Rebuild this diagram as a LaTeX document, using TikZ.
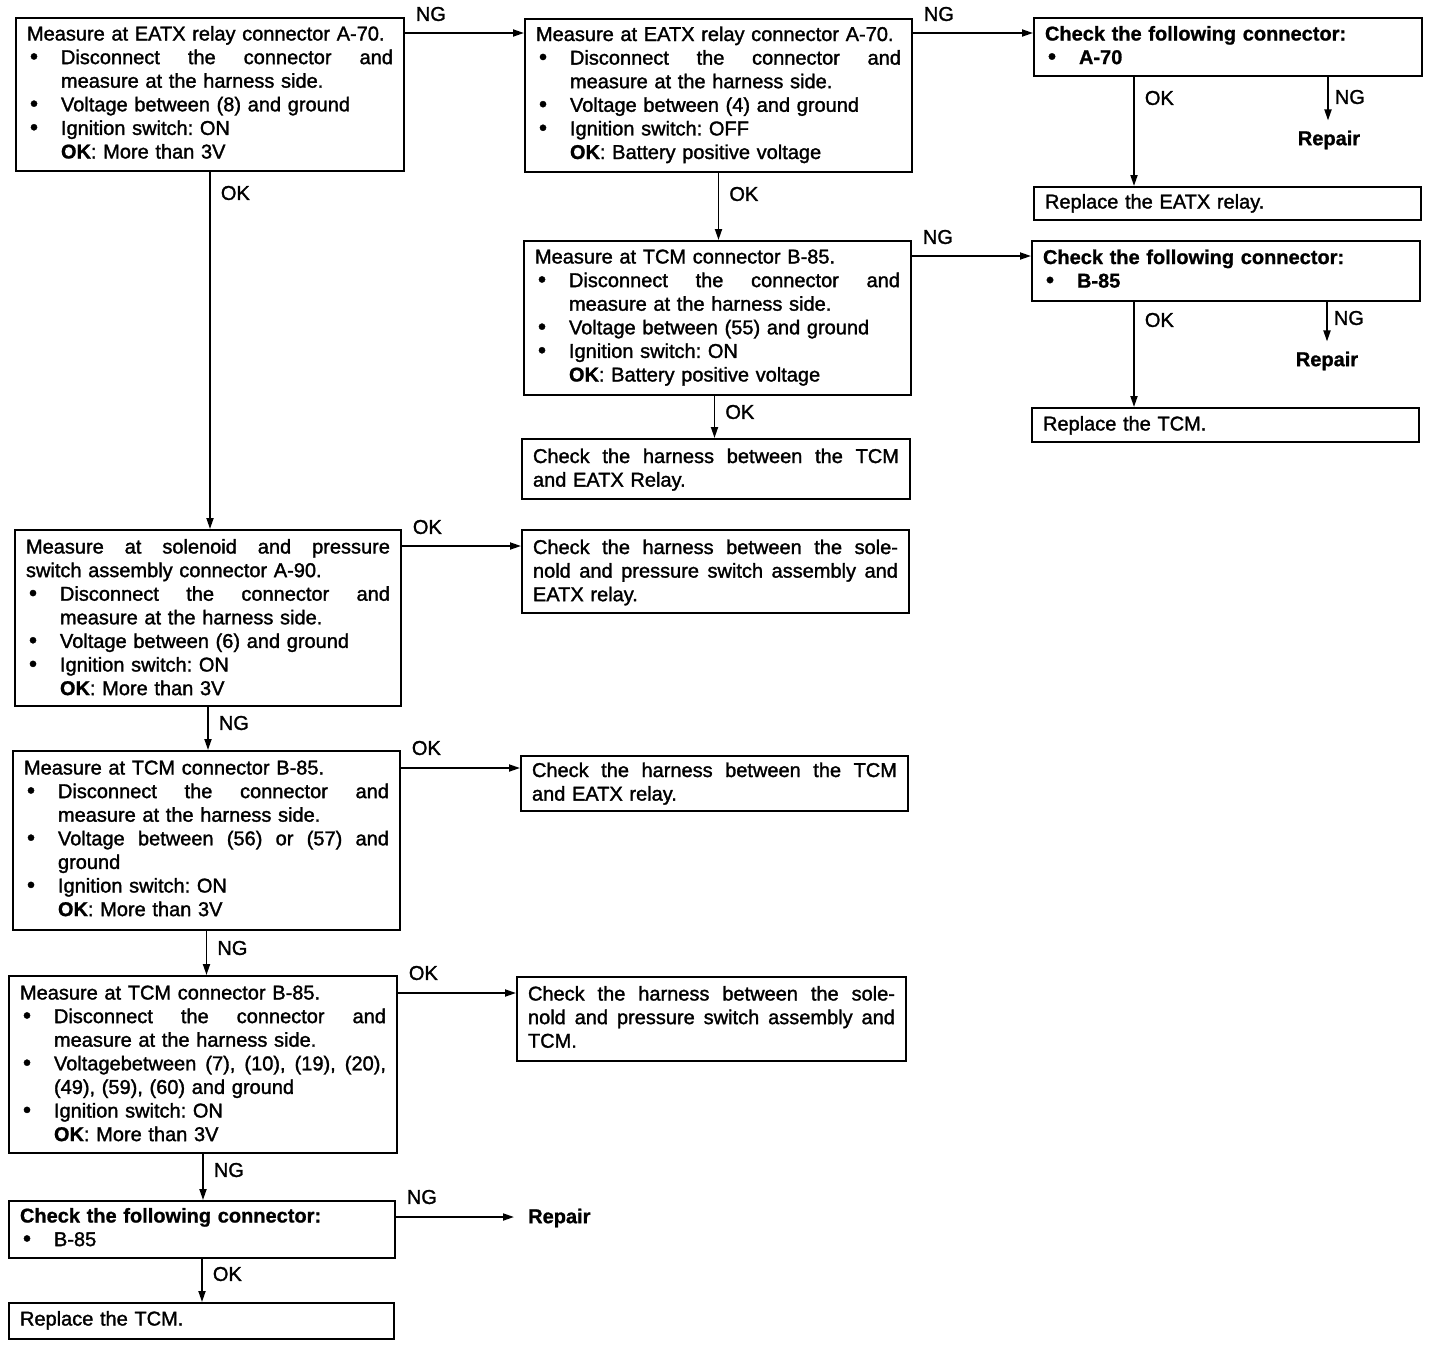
\documentclass[tikz,border=0pt]{standalone}
\usepackage{fontspec}
\setmainfont{Liberation Sans}[UprightFeatures={FakeBold=1.5},BoldFeatures={FakeBold=1}]
\usetikzlibrary{arrows.meta,calc}
\frenchspacing
\newlength\bind \setlength\bind{34pt}
\newcommand\bul{\makebox[\bind][l]{\hspace{3pt}\scalebox{1.15}{\textbullet}}}
\newcommand\bu[1]{\bul#1}
\newcommand\jbu[1]{\bul\makebox[\dimexpr\hsize-\bind\relax][s]{\spaceskip=.2em plus 1fil\relax #1}}
\newcommand\ind[1]{\hspace*{\bind}#1}
\newcommand\jl[1]{\makebox[\hsize][s]{\spaceskip=.2em plus 1fil\relax #1}}
\newcommand\okr[1]{\hspace*{\bind}\textbf{OK}: #1}
\tikzset{
  box/.style={draw, line width=2pt, rectangle, anchor=north west, inner xsep=11pt,
    inner ysep=0pt, align=left, font=\fontsize{20}{23.6}\selectfont},
  lbl/.style={font=\fontsize{20}{24}\selectfont, inner sep=2pt},
  rep/.style={font=\fontsize{20}{24}\selectfont\bfseries, inner sep=0pt},
  arr/.style={line width=1.8pt, -{Triangle[length=11pt,width=7pt]}},
}
\begin{document}
\begin{tikzpicture}[x=1pt,y=-1pt]
\useasboundingbox (0,0) rectangle (1440,1344);

% ---------- boxes ----------
\node[box, text width=366pt, text height=22.5pt, text depth=130.5pt] (A) at (15,17) {%
Measure at EATX relay connector A-70.\\
\jbu{Disconnect the connector and}\\
\ind{measure at the harness side.}\\
\bu{Voltage between (8) and ground}\\
\bu{Ignition switch: ON}\\
\okr{More than 3V}};

\node[box, text width=365pt, text height=22pt, text depth=131pt] (B) at (524,18) {%
Measure at EATX relay connector A-70.\\
\jbu{Disconnect the connector and}\\
\ind{measure at the harness side.}\\
\bu{Voltage between (4) and ground}\\
\bu{Ignition switch: OFF}\\
\okr{Battery positive voltage}};

\node[box, text width=366pt, text height=22.5pt, text depth=35.5pt] (C) at (1033,17) {%
\textbf{Check the following connector:}\\
\bfseries\bu{A-70}};

\node[box, text width=365pt, text height=21.5pt, text depth=11.5pt] (D) at (1033,186) {%
Replace the EATX relay.};

\node[box, text width=365pt, text height=22.5pt, text depth=131.5pt] (E) at (523,240) {%
Measure at TCM connector B-85.\\
\jbu{Disconnect the connector and}\\
\ind{measure at the harness side.}\\
\bu{Voltage between (55) and ground}\\
\bu{Ignition switch: ON}\\
\okr{Battery positive voltage}};

\node[box, text width=366pt, text height=23pt, text depth=37pt] (F) at (1031,240) {%
\textbf{Check the following connector:}\\
\bfseries\bu{B-85}};

\node[box, text width=365pt, text height=22.5pt, text depth=11.5pt] (G) at (1031,407) {%
Replace the TCM.};

\node[box, text width=366pt, text height=24pt, text depth=36pt] (H) at (521,438) {%
\jl{Check the harness between the TCM}\\
and EATX Relay.};

\node[box, text width=364pt, text height=23.5pt, text depth=152.5pt] (I) at (14,529) {%
\jl{Measure at solenoid and pressure}\\
switch assembly connector A-90.\\
\jbu{Disconnect the connector and}\\
\ind{measure at the harness side.}\\
\bu{Voltage between (6) and ground}\\
\bu{Ignition switch: ON}\\
\okr{More than 3V}};

\node[box, text width=365pt, text height=24pt, text depth=59pt] (J) at (521,529) {%
\jl{Check the harness between the sole-}\\
\jl{nold and pressure switch assembly and}\\
EATX relay.};

\node[box, text width=365pt, text height=23.5pt, text depth=155.5pt] (K) at (12,750) {%
Measure at TCM connector B-85.\\
\jbu{Disconnect the connector and}\\
\ind{measure at the harness side.}\\
\jbu{Voltage between (56) or (57) and}\\
\ind{ground}\\
\bu{Ignition switch: ON}\\
\okr{More than 3V}};

\node[box, text width=365pt, text height=21pt, text depth=34pt] (L) at (520,755) {%
\jl{Check the harness between the TCM}\\
and EATX relay.};

\node[box, text width=366pt, text height=23.5pt, text depth=153.5pt] (M) at (8,975) {%
Measure at TCM connector B-85.\\
\jbu{Disconnect the connector and}\\
\ind{measure at the harness side.}\\
\jbu{Voltagebetween (7), (10), (19), (20),}\\
\ind{(49), (59), (60) and ground}\\
\bu{Ignition switch: ON}\\
\okr{More than 3V}};

\node[box, text width=367pt, text height=23.5pt, text depth=60.5pt] (N) at (516,976) {%
\jl{Check the harness between the sole-}\\
\jl{nold and pressure switch assembly and}\\
TCM.};

\node[box, text width=364pt, text height=21.5pt, text depth=35.5pt] (O) at (8,1200) {%
\textbf{Check the following connector:}\\
\bu{B-85}};

\node[box, text width=363pt, text height=22.5pt, text depth=13.5pt] (P) at (8,1302) {%
Replace the TCM.};

% ---------- Repair labels ----------
\node[rep] (RA) at (1329,140) {Repair};
\node[rep] (RB) at (1327,361) {Repair};
\node[rep, anchor=west] (RC) at (528,1218) {Repair};

% ---------- connectors ----------
% horizontal
\draw[arr] ($(A.north east)+(0,16)$) coordinate (h1) -- node[lbl, at start, anchor=west, xshift=8pt, yshift=19pt]{NG} (h1 -| B.west);
\draw[arr] ($(B.north east)+(0,15)$) coordinate (h2) -- node[lbl, at start, anchor=west, xshift=8pt, yshift=19pt]{NG} (h2 -| C.west);
\draw[arr] ($(E.north east)+(0,16)$) coordinate (h3) -- node[lbl, at start, anchor=west, xshift=8pt, yshift=19pt]{NG} (h3 -| F.west);
\draw[arr] ($(I.north east)+(0,17)$) coordinate (h4) -- node[lbl, at start, anchor=west, xshift=8pt, yshift=19pt]{OK} (h4 -| J.west);
\draw[arr] ($(K.north east)+(0,18)$) coordinate (h5) -- node[lbl, at start, anchor=west, xshift=8pt, yshift=20pt]{OK} (h5 -| L.west);
\draw[arr] ($(M.north east)+(0,18)$) coordinate (h6) -- node[lbl, at start, anchor=west, xshift=8pt, yshift=20pt]{OK} (h6 -| N.west);
\draw[arr, shorten >=14pt] ($(O.north east)+(0,17)$) coordinate (h7) -- node[lbl, at start, anchor=west, xshift=8pt, yshift=20pt]{NG} (h7 -| RC.west);

% vertical
\draw[arr] (A.south) -- node[lbl, at start, anchor=west, xshift=8pt, yshift=-21pt]{OK} (A.south |- I.north);
\draw[arr] (B.south) -- node[lbl, at start, anchor=west, xshift=8pt, yshift=-21pt]{OK} (B.south |- E.north);
\draw[arr] ([xshift=-3pt]E.south) coordinate (v3) -- node[lbl, at start, anchor=west, xshift=8pt, yshift=-16pt]{OK} (v3 |- H.north);
\draw[arr] ([xshift=101pt]C.south west) coordinate (v4) -- node[lbl, at start, anchor=west, xshift=8pt, yshift=-21pt]{OK} (v4 |- D.north);
\draw[arr, shorten >=10pt] ([xshift=295pt]C.south west) coordinate (v5) -- node[lbl, at start, anchor=west, xshift=4pt, yshift=-20pt]{NG} (v5 |- RA.north);
\draw[arr] ([xshift=103pt]F.south west) coordinate (v6) -- node[lbl, at start, anchor=west, xshift=8pt, yshift=-18pt]{OK} (v6 |- G.north);
\draw[arr, shorten >=10pt] ([xshift=296pt]F.south west) coordinate (v7) -- node[lbl, at start, anchor=west, xshift=4pt, yshift=-16pt]{NG} (v7 |- RB.north);
\draw[arr] (I.south) -- node[lbl, at start, anchor=west, xshift=8pt, yshift=-16pt]{NG} (I.south |- K.north);
\draw[arr] (K.south) -- node[lbl, at start, anchor=west, xshift=8pt, yshift=-17pt]{NG} (K.south |- M.north);
\draw[arr] (M.south) -- node[lbl, at start, anchor=west, xshift=8pt, yshift=-16pt]{NG} (M.south |- O.north);
\draw[arr] (O.south) -- node[lbl, at start, anchor=west, xshift=8pt, yshift=-15pt]{OK} (O.south |- P.north);
\end{tikzpicture}
\end{document}
